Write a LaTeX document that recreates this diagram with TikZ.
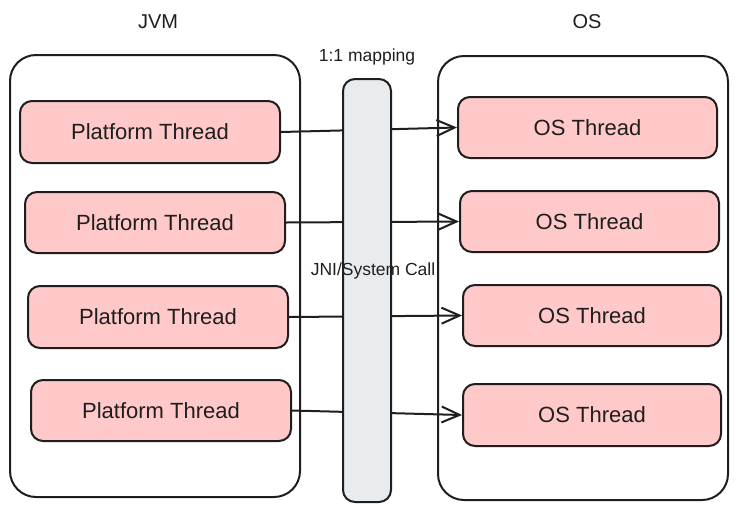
\documentclass[tikz,border=0pt]{standalone}
\usepackage{fontspec}
\setmainfont{Liberation Sans}
\usetikzlibrary{arrows.meta}
\definecolor{ink}{HTML}{1E1E1E}
\definecolor{pink}{HTML}{FFC9C9}
\definecolor{barfill}{HTML}{E9ECEF}
\tikzset{
  container/.style={draw=ink, line width=2pt, fill=white, rounded corners=26pt, inner sep=0pt},
  tbox/.style={draw=ink, line width=2pt, fill=pink, rounded corners=12pt, inner sep=0pt,
    font=\fontsize{22}{26}\selectfont, text=ink},
  bar/.style={draw=ink, line width=2pt, fill=barfill, rounded corners=12pt, inner sep=0pt},
  lbl/.style={font=\fontsize{20}{24}\selectfont, text=ink, inner sep=0pt},
  small/.style={font=\fontsize{17.5}{21}\selectfont, text=ink, inner sep=0pt},
  conn/.style={draw=ink, line width=2pt, -{Straight Barb[length=18pt,width=16pt,line width=2pt]}}
}
\begin{document}
\begin{tikzpicture}[x=1pt,y=-1pt]
\useasboundingbox (0,0) rectangle (738,512);
% containers
\node[container, minimum width=290, minimum height=442] (jvm) at (155,276) {};
\node[container, minimum width=290, minimum height=444] (os) at (583,278) {};
% thread boxes
\node[tbox, minimum width=260, minimum height=62] (p1) at (150,132) {Platform Thread};
\node[tbox, minimum width=260, minimum height=61] (p2) at (155,222.5) {Platform Thread};
\node[tbox, minimum width=260, minimum height=62] (p3) at (158,317) {Platform Thread};
\node[tbox, minimum width=260, minimum height=61] (p4) at (161,410.5) {Platform Thread};
\node[tbox, minimum width=259, minimum height=61] (o1) at (587.5,127.5) {OS Thread};
\node[tbox, minimum width=259, minimum height=61] (o2) at (589.5,221.5) {OS Thread};
\node[tbox, minimum width=258, minimum height=61] (o3) at (592,315.5) {OS Thread};
\node[tbox, minimum width=258, minimum height=62] (o4) at (592,415) {OS Thread};
% connectors
\draw[conn] (p1.east) -- (o1.west);
\draw[conn] (p2.east) -- (o2.west);
\draw[conn] (p3.east) -- (o3.west);
\draw[conn] (p4.east) -- (o4.west);
% middle bar over connectors
\node[bar, minimum width=48, minimum height=423] (mid) at (367,290.5) {};
% labels
\node[lbl] (tjvm) at (158,22) {JVM};
\node[lbl] (tos) at (587,22) {OS};
\node[small] (tmap) at (367,57) {1:1 mapping};
\node[small] (tjni) at (373,271) {JNI/System Call};
\end{tikzpicture}
\end{document}
